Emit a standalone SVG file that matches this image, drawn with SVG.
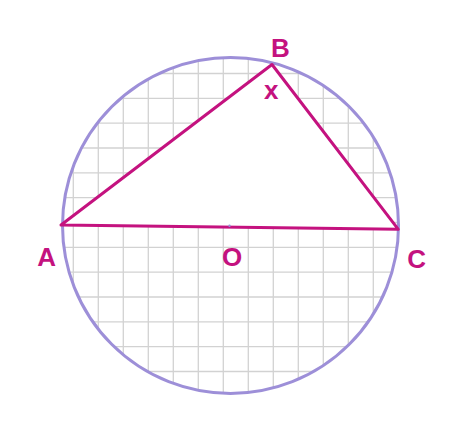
<svg xmlns="http://www.w3.org/2000/svg" width="470" height="430" viewBox="0 0 470 430">
<style>
.grid{stroke:#d2d2d2;stroke-width:1.3;fill:none}
.lbl{font-family:"Liberation Sans",Arial,sans-serif;font-weight:bold;font-size:26px;fill:#c4127f;text-anchor:middle}
.tri{fill:#ffffff;stroke:#c4127f;stroke-width:3;stroke-linejoin:round}
.circ{fill:none;stroke:#9d8fd8;stroke-width:3}
</style>
<defs>
<clipPath id="cc"><circle cx="230.5" cy="225.5" r="168"/></clipPath>
</defs>
<rect width="470" height="430" fill="#ffffff"/>
<g id="grid" class="grid" clip-path="url(#cc)">
<path d="M48.3 0V430M73.3 0V430M98.3 0V430M123.3 0V430M148.3 0V430M173.3 0V430M198.3 0V430M223.3 0V430M248.3 0V430M273.3 0V430M298.3 0V430M323.3 0V430M348.3 0V430M373.3 0V430M398.3 0V430"/>
<path d="M0 48.7H470M0 73.5H470M0 98.3H470M0 123.2H470M0 148H470M0 172.8H470M0 197.7H470M0 222.5H470M0 247.3H470M0 272.2H470M0 297H470M0 321.8H470M0 346.7H470M0 371.5H470M0 396.3H470"/>
</g>
<g id="circle">
<circle class="circ" cx="230.5" cy="225.5" r="168"/>
</g>
<g id="connectors">
<polygon id="triangle" class="tri" points="61,225 272,64.5 398.3,229.3"/>
</g>
<g id="O">
<circle cx="229.5" cy="225.7" r="1.2" fill="#9d8fd8"/>
<text class="lbl" x="232" y="265.5">O</text>
</g>
<g id="A"><text class="lbl" x="46.7" y="265.7">A</text></g>
<g id="B"><text class="lbl" x="280.5" y="56.7">B</text></g>
<g id="C"><text class="lbl" x="416.7" y="268.3">C</text></g>
<g id="x"><text class="lbl" x="271.3" y="98.7">x</text></g>
</svg>
